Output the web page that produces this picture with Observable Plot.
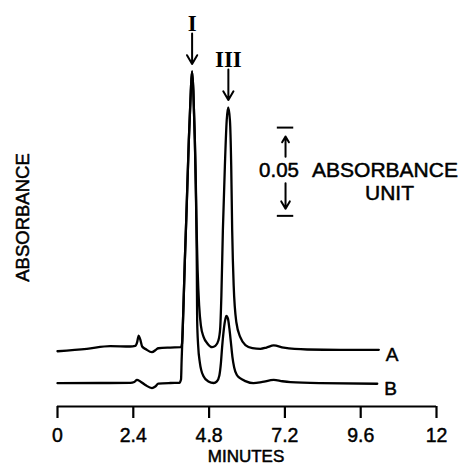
<!DOCTYPE html>
<html><head><meta charset="utf-8">
<script src="https://cdn.jsdelivr.net/npm/d3@7"></script>
<script src="https://cdn.jsdelivr.net/npm/@observablehq/plot@0.6"></script>
<style>body{margin:0;background:#fff}</style>
</head><body><div id="chart"></div>
<script>
// x axis ticks (minutes)
const tickValues = [0, 2.4, 4.8, 7.2, 9.6, 12];

// Trace A (minutes, absorbance units incl. baseline offset)
const timeA = [0.00, 0.93, 1.67, 2.30, 2.46, 2.52, 2.57, 2.62, 2.68, 2.81, 2.99, 3.13, 3.19, 3.57, 3.905, 3.943, 3.984, 4.032, 4.079, 4.158, 4.222, 4.260, 4.301, 4.349, 4.396, 4.437, 4.485, 4.539, 4.628, 4.745, 4.894, 4.998, 5.094, 5.151, 5.189, 5.236, 5.300, 5.357, 5.405, 5.460, 5.500, 5.531, 5.578, 5.664, 5.791, 5.949, 6.171, 6.425, 6.615, 6.846, 7.163, 7.905, 8.960, 10.174];
const absA  = [0.0313, 0.0327, 0.0342, 0.0340, 0.0343, 0.0363, 0.0402, 0.0380, 0.0340, 0.0323, 0.0308, 0.0323, 0.0330, 0.0334, 0.0336, 0.0357, 0.0544, 0.0827, 0.1071, 0.1507, 0.1790, 0.1898, 0.1790, 0.1507, 0.1071, 0.0771, 0.0572, 0.0459, 0.0393, 0.0357, 0.0336, 0.0343, 0.0374, 0.0442, 0.0629, 0.0997, 0.1365, 0.1620, 0.1694, 0.1620, 0.1365, 0.0997, 0.0686, 0.0476, 0.0391, 0.0348, 0.0331, 0.0327, 0.0334, 0.0346, 0.0333, 0.0323, 0.0321, 0.0321];

// Trace B
const timeB = [0.00, 1.353, 2.304, 2.431, 2.517, 2.621, 2.780, 2.992, 3.097, 3.192, 3.572, 3.857, 3.911, 3.930, 3.949, 3.984, 4.032, 4.079, 4.158, 4.222, 4.260, 4.301, 4.349, 4.396, 4.412, 4.422, 4.453, 4.507, 4.618, 4.777, 4.945, 5.046, 5.125, 5.173, 5.211, 5.252, 5.306, 5.347, 5.395, 5.442, 5.490, 5.537, 5.594, 5.680, 5.791, 5.949, 6.203, 6.488, 6.846, 7.122, 7.376, 8.326, 10.124];
const absB  = [0.0132, 0.0133, 0.0134, 0.0139, 0.0151, 0.0142, 0.0122, 0.0104, 0.0113, 0.0129, 0.0133, 0.0134, 0.0153, 0.0261, 0.0357, 0.0544, 0.0827, 0.1071, 0.1507, 0.1790, 0.1898, 0.1790, 0.1507, 0.1071, 0.0771, 0.0487, 0.0346, 0.0249, 0.0173, 0.0142, 0.0133, 0.0142, 0.0176, 0.0244, 0.0334, 0.0414, 0.0487, 0.0513, 0.0499, 0.0442, 0.0363, 0.0283, 0.0221, 0.0178, 0.0159, 0.0144, 0.0132, 0.0139, 0.0151, 0.0143, 0.0138, 0.0132, 0.0129];

const traceNames = ["A", "B"];
const peakNames = ["I", "III"];
const peakTimes = [4.262, 5.41];
const peakAbs = [0.1898, 0.1694];

// scale bar: 0.05 absorbance unit
const barTime = 7.22;
const barBase = 0.108;
const barSize = 0.05;
const barText = ["0.05", "ABSORBANCE", "UNIT"];

const traceA = timeA.map((t, i) => ({t, v: absA[i], s: "A"}));
const traceB = timeB.map((t, i) => ({t, v: absB[i], s: "B"}));
const ends = [traceA[traceA.length - 1], traceB[traceB.length - 1]].map((d, i) => ({...d, name: traceNames[i]}));
const peaks = peakNames.map((name, i) => ({name, t: peakTimes[i], v: peakAbs[i]}));

const sans = "Liberation Sans, Arial, Helvetica, sans-serif";
const ink = {fill: "#000", stroke: "#000", strokeWidth: 0.5};

const chart = Plot.plot({
  width: 467,
  height: 468,
  marginLeft: 57,
  marginRight: 31,
  marginTop: 0,
  marginBottom: 62,
  style: {fontFamily: sans, background: "#fff", color: "#000"},
  x: {domain: [0, 12]},
  y: {domain: [0, 0.23], axis: null},
  marks: [
    Plot.ruleY([0], {stroke: "#000", strokeWidth: 2.2}),
    Plot.axisX({ticks: tickValues, tickSize: 12, tickWidth: 2.2, strokeWidth: 2.2, text: null, label: null, stroke: "#000"}),
    Plot.text(tickValues, {x: d => d, text: d => String(d), frameAnchor: "bottom", lineAnchor: "top", dy: 22, fontSize: 19.5, ...ink, strokeWidth: 0.45}),
    Plot.text(["MINUTES"], {frameAnchor: "bottom", lineAnchor: "top", dy: 43.5, dx: -1, fontSize: 17, ...ink}),
    Plot.text(["ABSORBANCE"], {frameAnchor: "left", textAnchor: "middle", rotate: -90, dx: -34, dy: 14, fontSize: 18.5, ...ink}),
    Plot.line(traceA, {x: "t", y: "v", curve: "monotone-x", stroke: "#000", strokeWidth: 2.3, strokeLinejoin: "round"}),
    Plot.line(traceB, {x: "t", y: "v", curve: "monotone-x", stroke: "#000", strokeWidth: 2.3, strokeLinejoin: "round"}),
    Plot.text(ends, {x: "t", y: "v", text: "name", textAnchor: "start", dx: 7, dy: 5, fontSize: 19, ...ink}),
    // peak labels and arrows
    Plot.text(peaks, {x: "t", y: d => d.v + 0.0272, text: "name", fontFamily: "Liberation Serif, DejaVu Serif, serif", fontWeight: "bold", fontSize: 23, fill: "#000"}),
    Plot.arrow(peaks, {x1: "t", x2: "t", y1: d => d.v + 0.0215, y2: d => d.v + 0.0042, stroke: "#000", strokeWidth: 2, headLength: 8}),
    // scale bar
    Plot.ruleY([barBase, barBase + barSize], {x1: barTime - 0.26, x2: barTime + 0.26, stroke: "#000", strokeWidth: 2}),
    Plot.arrow([0], {x1: barTime, x2: barTime, y1: barBase + barSize * 0.67, y2: barBase + barSize * 0.9, stroke: "#000", strokeWidth: 2, headLength: 8}),
    Plot.arrow([0], {x1: barTime, x2: barTime, y1: barBase + barSize * 0.37, y2: barBase + barSize * 0.08, stroke: "#000", strokeWidth: 2, headLength: 8}),
    Plot.text([barText[0]], {x: barTime, y: barBase + barSize * 0.52, dx: -6.5, fontSize: 20.5, ...ink}),
    Plot.text([barText[1]], {x: barTime, y: barBase + barSize * 0.52, dx: 26.5, textAnchor: "start", fontSize: 21, ...ink}),
    Plot.text([barText[2]], {x: barTime, y: barBase + barSize * 0.26, dx: 104, fontSize: 21, ...ink})
  ]
});
document.getElementById("chart").appendChild(chart);
</script>
</body></html>
